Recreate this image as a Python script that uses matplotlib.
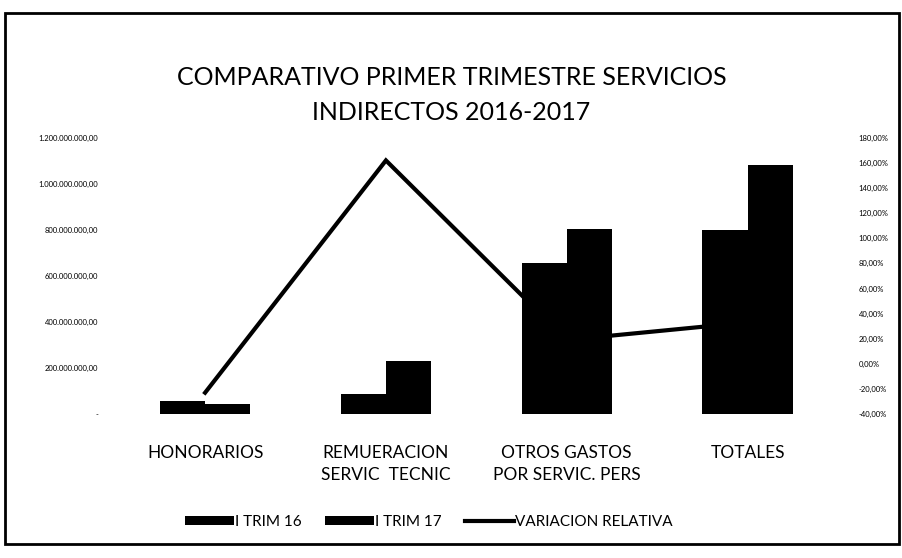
import numpy as np
import matplotlib.pyplot as plt
from matplotlib.patches import Rectangle
from matplotlib.ticker import FuncFormatter

plt.rcParams["font.family"] = ["Lato", "DejaVu Sans"]

# values
categorias = ["HONORARIOS", "REMUERACION\nSERVIC  TECNIC",
              "OTROS GASTOS\nPOR SERVIC. PERS", "TOTALES"]
trim16 = [55e6, 87e6, 658e6, 800e6]
trim17 = [45e6, 230e6, 805e6, 1080e6]
variacion = [-23.0, 162.0, 19.0, 33.0]   # %

left_ticks = [0, 200e6, 400e6, 600e6, 800e6, 1000e6, 1200e6]
right_ticks = list(range(-40, 181, 20))


def fmt_miles(v, pos=None):
    if v == 0:
        return "-"
    s = f"{v:,.2f}"
    return s.replace(",", "X").replace(".", ",").replace("X", ".")


def fmt_pct(v, pos=None):
    return f"{v:.2f}%".replace(".", ",")


fig = plt.figure(figsize=(9.03, 5.58), dpi=100)
ax = fig.add_axes([0.127, 0.258, 0.801, 0.495])
ax2 = ax.twinx()

x = np.arange(len(categorias))
w = 0.25
ax.bar(x - w / 2, trim16, w, color="black", label="I TRIM 16", zorder=2)
ax.bar(x + w / 2, trim17, w, color="black", label="I TRIM 17", zorder=2)

ax2.plot(x, variacion, color="black", lw=3, label="VARIACION RELATIVA",
         solid_joinstyle="miter")

ax.set_xlim(-0.5, len(categorias) - 0.5)
ax.set_ylim(0, 1200e6)
ax.set_yticks(left_ticks)
ax.yaxis.set_major_formatter(FuncFormatter(fmt_miles))
ax2.set_ylim(-40, 180)
ax2.set_yticks(right_ticks)
ax2.yaxis.set_major_formatter(FuncFormatter(fmt_pct))

ax.set_xticks(x)
ax.set_xticklabels(categorias, fontsize=12.5, linespacing=1.5)
ax.tick_params(axis="x", length=0, pad=22)
ax.tick_params(axis="y", length=0, labelsize=5.5, pad=12)
ax2.tick_params(axis="y", length=0, labelsize=5.5, pad=15)

for a in (ax, ax2):
    for sp in a.spines.values():
        sp.set_visible(False)

fig.text(0.5, 0.862, "COMPARATIVO PRIMER TRIMESTRE SERVICIOS",
         ha="center", va="center", fontsize=18)
fig.text(0.5, 0.799, "INDIRECTOS 2016-2017",
         ha="center", va="center", fontsize=18)

h1, l1 = ax.get_legend_handles_labels()
h2, l2 = ax2.get_legend_handles_labels()
fig.legend(h1 + h2, l1 + l2, loc="center", bbox_to_anchor=(0.475, 0.064),
           ncol=3, frameon=False, fontsize=11, handlelength=3.2,
           handleheight=0.55, handletextpad=0.1, columnspacing=1.5)

# frame around the chart
fig.patches.append(Rectangle((0.006, 0.025), 0.99, 0.952, transform=fig.transFigure,
                             fill=False, edgecolor="black", lw=2))

fig.savefig("out.png", dpi=100)
